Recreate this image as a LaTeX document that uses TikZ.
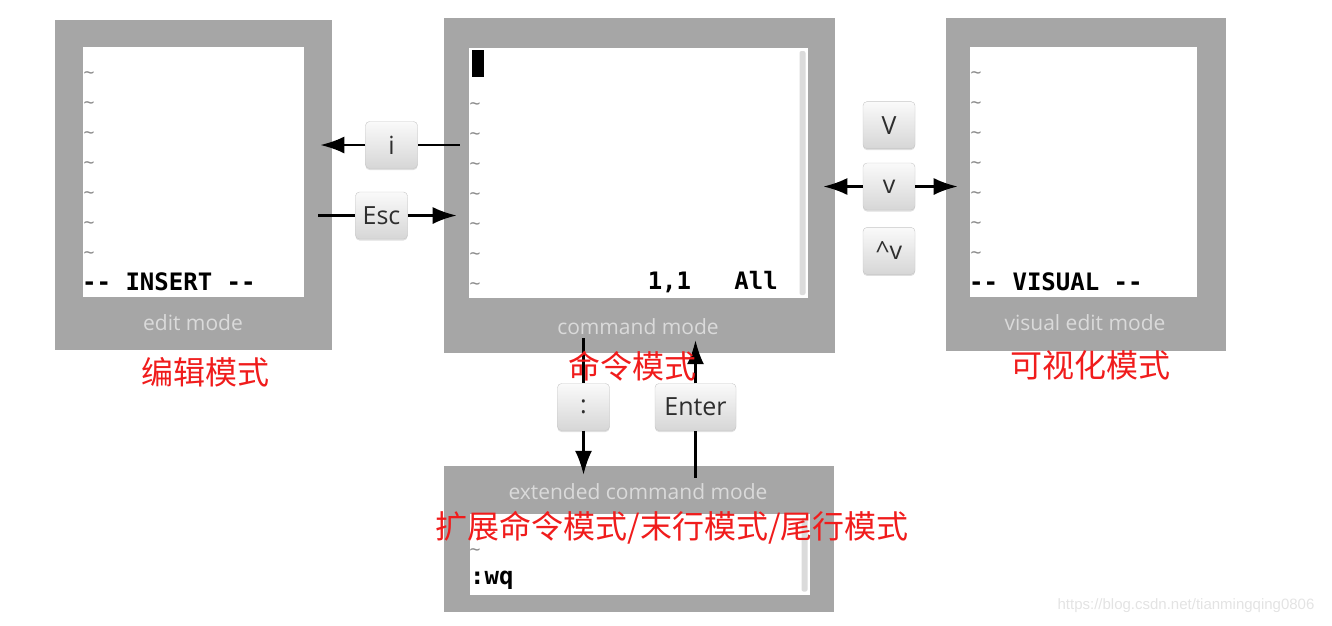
\documentclass[tikz,border=0pt]{standalone}
\usepackage{fontspec}
\setmainfont{Open Sans}
\setmonofont{DejaVu Sans Mono}
\newfontfamily\cjk{Noto Sans CJK SC}
\newfontfamily\webfont{Liberation Sans}
\usepackage{xcolor}
\definecolor{framegray}{HTML}{A6A6A6}
\definecolor{modetxt}{HTML}{DADADA}
\definecolor{keytxt}{HTML}{2E2E2E}
\definecolor{cnred}{HTML}{F01C1C}
\definecolor{tildegray}{HTML}{8C8C8C}
\usetikzlibrary{positioning, arrows.meta, shadows}

\begin{document}
\begin{tikzpicture}[
  x=1pt, y=-1pt,
  term/.style   = {fill=framegray, inner sep=0pt},
  screen/.style = {fill=white, draw=gray!70, line width=0.6pt, inner sep=0pt},
  key/.style    = {top color=gray!4, bottom color=gray!32, draw=gray!45,
                   rounded corners=4pt, minimum width=52pt, minimum height=47pt,
                   font=\fontsize{25}{28}\selectfont, text=keytxt, inner sep=0pt,
                   drop shadow={shadow xshift=0pt, shadow yshift=-1.5pt, opacity=0.25}},
  mode/.style   = {font=\fontsize{21}{24}\selectfont, text=modetxt},
  mono/.style   = {font=\ttfamily\bfseries\fontsize{24}{28}\selectfont,
                   inner sep=0pt, anchor=west},
  tld/.style    = {font=\ttfamily\fontsize{18}{20}\selectfont, text=tildegray, inner sep=0pt},
  cn/.style     = {font=\cjk\fontsize{32}{36}\selectfont, text=cnred, inner sep=0pt},
  link/.style   = {line width=2.4pt},
  arr/.style    = {-{Latex[length=24pt,width=17pt]}, line width=2.4pt}
]
\useasboundingbox (0,0) rectangle (1332,625);

% the four vim windows
\node[term, minimum width=277pt, minimum height=330pt] (edit) at (193.5,185)   {};
\node[term, minimum width=391pt, minimum height=335pt] (cmd)  at (639.5,185.5) {};
\node[term, minimum width=280pt, minimum height=333pt] (vis)  at (1086,184.5)  {};
\node[term, minimum width=390pt, minimum height=146pt] (ext)  at (639,539)     {};

\node[screen, minimum width=222pt, minimum height=251pt] (scr-edit) at (193,171.5)  {};
\node[screen, minimum width=340pt, minimum height=251pt] (scr-cmd)  at (638,172.5)  {};
\node[screen, minimum width=228pt, minimum height=251pt] (scr-vis)  at (1083,171.5) {};
\node[screen, minimum width=341pt, minimum height=82pt]  (scr-ext)  at (639.5,554)  {};

% scrollbars and cursor
\node[fill=gray!28, rounded corners=2pt, minimum width=6pt, minimum height=244pt,
      inner sep=0pt] (sbar-cmd) at (802.5,173) {};
\node[fill=gray!28, rounded corners=2pt, minimum width=6pt, minimum height=74pt,
      inner sep=0pt] (sbar-ext) at (804.5,554.5) {};
\node[fill=black, minimum width=12pt, minimum height=27pt, inner sep=0pt]
  (cursor) at (478,63.5) {};

% empty lines
\foreach \y [count=\i] in {75,105,...,255}
  \node[tld] (tE\i) at (89,\y) {\textasciitilde};
\foreach \y [count=\i] in {106,136,...,286}
  \node[tld] (tC\i) at (475,\y) {\textasciitilde};
\foreach \y [count=\i] in {75,105,...,255}
  \node[tld] (tV\i) at (976,\y) {\textasciitilde};
\node[tld] (tX1) at (475,552) {\textasciitilde};

% status lines
\node[mono] (insert) at (82,282)  {-{}- INSERT -{}-};
\node[mono] (visual) at (969,282) {-{}- VISUAL -{}-};
\node[mono, anchor=east] (ruler) at (778,282) {1,1\hphantom{000}All};
\node[mono] (wq) at (470,580) {:wq};

% window captions
\node[mode] (editlbl) at (193,323)  {edit mode};
\node[mode] (cmdlbl)  at (638,327)  {command mode};
\node[mode] (vislbl)  at (1085,323) {visual edit mode};
\node[mode] (extlbl)  at (638,492)  {extended command mode};

% keys
\node[key] (ikey)   at (391.5,145) {i};
\node[key] (esckey) at (381.5,215.5) {Esc};
\node[key] (vkey)   at (889,186.5) {v};
\node[key, above=14pt of vkey] (Vkey) {V};
\node[key, below=17pt of vkey] (ctrlvkey) {\textasciicircum v};
\node[key] (colonkey) at (583.5,407) {:};
\node[key, minimum width=81pt] (enterkey) at (695.5,407) {Enter};

% transitions
\draw[link, shorten <=8pt] (scr-cmd.west |- ikey) -- (ikey.east);
\draw[arr, shorten >=16pt] (ikey.west) -- (scr-edit.east |- ikey);
\draw[link, shorten <=14pt] (scr-edit.east |- esckey) -- (esckey.west);
\draw[arr, shorten >=11pt] (esckey.east) -- (scr-cmd.west |- esckey);
\draw[arr, shorten >=15pt] (vkey.west) -- (scr-cmd.east |- vkey);
\draw[arr, shorten >=11pt] (vkey.east) -- (scr-vis.west |- vkey);
\draw[link, shorten <=-15pt] (colonkey |- cmd.south) -- (colonkey.north);
\draw[arr, shorten >=-9pt] (colonkey.south) -- (colonkey |- ext.north);
\draw[link, shorten <=-12pt] (enterkey |- ext.north) -- (enterkey.south);
\draw[arr, shorten >=-13pt] (enterkey.north) -- (enterkey |- cmd.south);

% chinese names
\node[cn] (editcn) at (205,372)  {编辑模式};
\node[cn] (cmdcn)  at (632,366)  {命令模式};
\node[cn] (viscn)  at (1090,365) {可视化模式};
\node[cn] (extcn)  at (672,528)  {扩展命令模式/末行模式/尾行模式};

\node[font=\webfont\fontsize{15}{17}\selectfont, text=gray!22] (wm) at (1186,606)
  {https://blog.csdn.net/tianmingqing0806};
\end{tikzpicture}
\end{document}
